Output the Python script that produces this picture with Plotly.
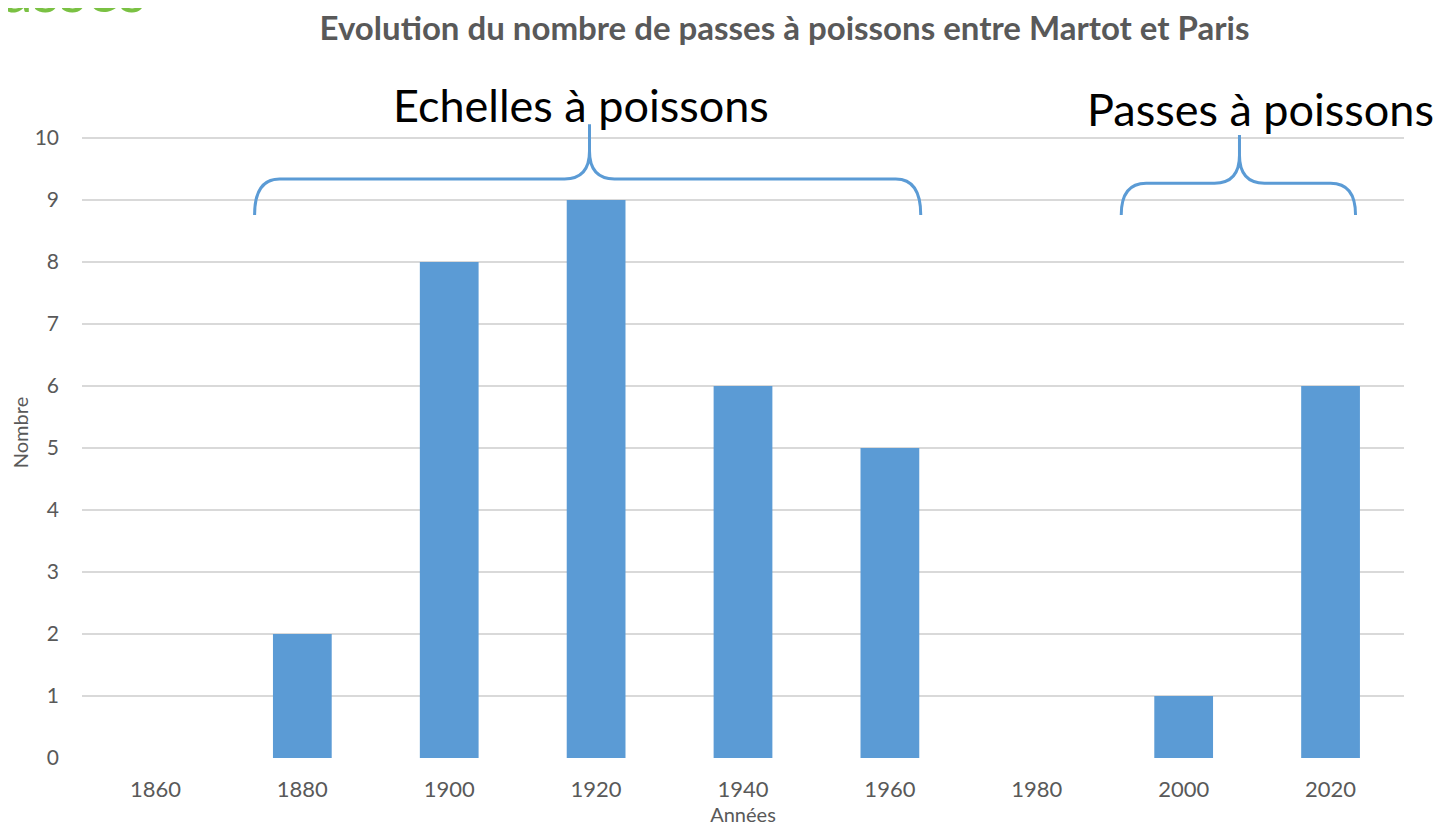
import plotly.graph_objects as go

years = [1860, 1880, 1900, 1920, 1940, 1960, 1980, 2000, 2020]
counts = [0, 2, 8, 9, 6, 5, 0, 1, 6]
tick_labels = [str(y) for y in years]
y_ticks = list(range(0, 11))

title = "Evolution du nombre de passes à poissons entre Martot et Paris"
label_echelles = "Echelles à poissons"
label_passes = "Passes à poissons"

BLUE = "#5B9BD5"
GREY = "#595959"
FONT = "Lato"

fig = go.Figure()
fig.add_trace(go.Bar(x=years, y=counts, width=8, marker=dict(color=BLUE, line=dict(width=0)),
                     hoverinfo="x+y"))


def brace(x0, x1, xc, ybase, ymid, ytip, dx=3.4, dy=0.45):
    return (f"M {x0},{ybase} Q {x0},{ymid} {x0+dx},{ymid} L {xc-dx},{ymid} "
            f"Q {xc},{ymid} {xc},{ymid+dy} L {xc},{ytip} "
            f"M {xc},{ymid+dy} Q {xc},{ymid} {xc+dx},{ymid} L {x1-dx},{ymid} "
            f"Q {x1},{ymid} {x1},{ybase}")


fig.add_shape(type="path", xref="x", yref="y",
              path=brace(1873.5, 1964.2, 1919.1, 8.76, 9.34, 10.22),
              line=dict(color=BLUE, width=3))
fig.add_shape(type="path", xref="x", yref="y",
              path=brace(1991.5, 2023.4, 2007.6, 8.76, 9.27, 10.05),
              line=dict(color=BLUE, width=3))

fig.add_annotation(x=1918.0, y=10.07, xref="x", yref="y", text=label_echelles, showarrow=False,
                   xanchor="center", yanchor="bottom",
                   font=dict(family=FONT, size=45, color="#000000"))
fig.add_annotation(x=2010.5, y=10.0, xref="x", yref="y", text=label_passes, showarrow=False,
                   xanchor="center", yanchor="bottom",
                   font=dict(family=FONT, size=45, color="#000000"))

# cropped green text at very top-left of the image
fig.add_annotation(x=-0.062, y=1.123, xref="paper", yref="paper", text="asses",
                   showarrow=False, xanchor="left", yanchor="bottom",
                   font=dict(family=FONT, size=62, color="#7AC143"))

fig.update_layout(
    width=1438, height=818,
    margin=dict(l=74, r=42, t=99, b=68),
    paper_bgcolor="white", plot_bgcolor="white",
    showlegend=False,
    title=dict(text=f"<b>{title}</b>", x=0.540, xanchor="center", y=0.975, yanchor="middle",
               font=dict(family=FONT, size=33, color=GREY)),
    font=dict(family=FONT, size=20, color=GREY),
    bargap=0.6,
)
fig.update_xaxes(
    type="linear", range=[1850, 2030], tickvals=years, ticktext=tick_labels,
    showgrid=False, zeroline=False, showline=False, ticks="", automargin=False,
    tickfont=dict(family=FONT, size=22, color=GREY), ticklabelstandoff=16,
    title=dict(text="Années", font=dict(family=FONT, size=20, color=GREY), standoff=6),
)
fig.update_yaxes(
    range=[0, 10.5], tickvals=y_ticks, showgrid=True, gridcolor="#D9D9D9", gridwidth=1.5,
    zeroline=False, showline=False, ticks="", automargin=False,
    tickfont=dict(family=FONT, size=21, color=GREY), ticklabelstandoff=22,
    title=dict(text="Nombre", font=dict(family=FONT, size=20, color=GREY), standoff=0),
)

fig.write_html("out.html")
